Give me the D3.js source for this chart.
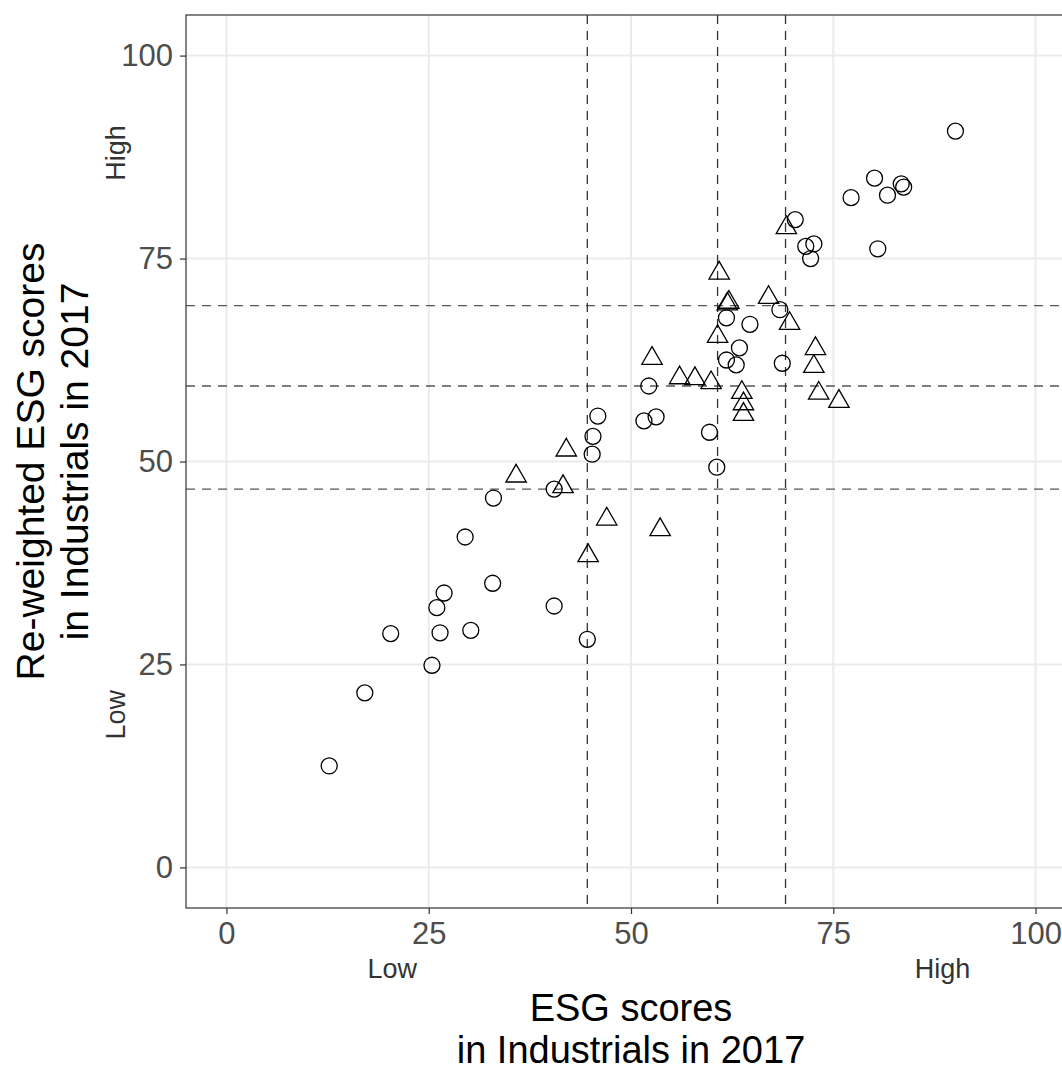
<!DOCTYPE html>
<html>
<head>
<meta charset="utf-8">
<script src="https://cdn.jsdelivr.net/npm/d3@7"></script>
<style>
  body { margin: 0; background: #fff; }
  .chart { width: 1062px; height: 1071px; overflow: hidden; }
  text { font-family: "Liberation Sans", Arial, sans-serif; }
</style>
</head>
<body>
<div class="chart"></div>
<script>
// circles: firms, triangles: the other group
const circleX = [12.7, 17.1, 20.3, 25.4, 26.0, 26.9, 26.4, 29.5, 30.2, 32.9, 33.0, 40.5, 44.6, 40.5, 45.2, 45.3, 45.9, 51.6, 53.1, 52.2,
	59.7, 60.6, 61.8, 64.7, 63.4, 61.8, 63.0, 68.4, 68.7, 70.3, 71.6, 72.6, 72.2, 77.2, 80.1, 81.7, 83.4, 83.7, 80.5, 90.1];
const circleY = [12.5, 21.5, 28.8, 24.9, 32.0, 33.8, 28.9, 40.7, 29.2, 35.0, 45.5, 32.2, 28.1, 46.6, 50.9, 53.1, 55.6, 55.0, 55.5, 59.3,
	53.6, 49.3, 67.7, 66.9, 64.0, 62.5, 61.9, 68.7, 62.1, 79.8, 76.5, 76.8, 75.0, 82.5, 84.9, 82.8, 84.2, 83.8, 76.2, 90.7];

const triangleX = [35.8, 41.6, 42.0, 47.0, 53.6, 44.7, 52.6, 56.0, 57.9, 59.9, 60.7, 60.9, 61.9, 62.1, 67.0, 69.6, 69.2, 72.8, 72.6, 73.2,
	75.7, 63.7, 63.9, 63.9];
const triangleY = [48.2, 46.9, 51.4, 42.9, 41.6, 38.4, 62.7, 60.3, 60.2, 59.7, 65.4, 73.2, 69.4, 69.6, 70.2, 67.0, 78.8, 63.9, 61.7, 58.4,
	57.4, 58.5, 57.1, 55.8];

// cut-off values (dashed lines)
const cutX = [44.6, 60.7, 69.1];
const cutY = [46.6, 59.3, 69.2];

const xTicks = [0, 25, 50, 75, 100];
const yTicks = [0, 25, 50, 75, 100];

const xLevels = ['Low', 'High'];
const xLevelPos = [20.5, 88.5];
const yLevels = ['Low', 'High'];
const yLevelPos = [18.8, 88];

const xTitle = ['ESG scores', 'in Industrials in 2017'];
const yTitle = ['Re-weighted ESG scores', 'in Industrials in 2017'];

const width = 1062;
const height = 1071;

const padLeft = 186, padTop = 15;
const panelW = 890, panelH = 893;

let svg = d3.select('.chart')
	.append('svg')
	.attr('width', width)
	.attr('height', height);

const x = d3.scaleLinear().domain([-5, 105]).range([padLeft, padLeft + panelW]);
const y = d3.scaleLinear().domain([-5, 105]).range([padTop + panelH, padTop]);

// grid
svg.selectAll('.gx').data(xTicks).enter()
	.append('line')
	.attr('x1', d => x(d)).attr('x2', d => x(d))
	.attr('y1', padTop).attr('y2', padTop + panelH)
	.style('stroke', '#ebebeb').style('stroke-width', 2);

svg.selectAll('.gy').data(yTicks).enter()
	.append('line')
	.attr('x1', padLeft).attr('x2', padLeft + panelW)
	.attr('y1', d => y(d)).attr('y2', d => y(d))
	.style('stroke', '#ebebeb').style('stroke-width', 2);

// dashed cut lines
svg.selectAll('.cy').data(cutY).enter()
	.append('line')
	.attr('x1', padLeft).attr('x2', padLeft + panelW)
	.attr('y1', d => y(d)).attr('y2', d => y(d))
	.style('stroke', '#555').style('stroke-width', 1.3)
	.style('stroke-dasharray', '9,7');

svg.selectAll('.cx').data(cutX).enter()
	.append('line')
	.attr('x1', d => x(d)).attr('x2', d => x(d))
	.attr('y1', padTop).attr('y2', padTop + panelH)
	.style('stroke', '#333').style('stroke-width', 1.3)
	.style('stroke-dasharray', '9,7');

// points
svg.selectAll('.circ').data(circleX).enter()
	.append('circle')
	.attr('cx', d => x(d))
	.attr('cy', (d, i) => y(circleY[i]))
	.attr('r', 8)
	.style('fill', 'none')
	.style('stroke', '#000')
	.style('stroke-width', 1.3);

const tri = d3.symbol().type(d3.symbolTriangle).size(180);
svg.selectAll('.tri').data(triangleX).enter()
	.append('path')
	.attr('d', tri)
	.attr('transform', (d, i) => 'translate(' + x(d) + ',' + y(triangleY[i]) + ')')
	.style('fill', 'none')
	.style('stroke', '#000')
	.style('stroke-width', 1.3);

// panel border
svg.append('rect')
	.attr('x', padLeft).attr('y', padTop)
	.attr('width', panelW).attr('height', panelH)
	.style('fill', 'none')
	.style('stroke', '#333')
	.style('stroke-width', 1.2);

// axes
let gx = svg.append('g')
	.attr('transform', 'translate(0,' + (padTop + panelH) + ')')
	.call(d3.axisBottom(x).tickValues(xTicks).tickSize(6).tickPadding(8));
let gy = svg.append('g')
	.attr('transform', 'translate(' + padLeft + ',0)')
	.call(d3.axisLeft(y).tickValues(yTicks).tickSize(6).tickPadding(7));

[gx, gy].forEach(g => {
	g.select('.domain').remove();
	g.selectAll('line').attr('stroke', '#333').attr('stroke-width', 1.2);
	g.selectAll('text')
		.attr('font-family', '"Liberation Sans", Arial, sans-serif')
		.attr('font-size', 31)
		.attr('fill', '#4d4d4d');
});

// Low / High labels
svg.selectAll('.lx').data(xLevels).enter()
	.append('text')
	.attr('x', (d, i) => x(xLevelPos[i]))
	.attr('y', 978)
	.attr('text-anchor', 'middle')
	.style('font-size', '27px')
	.style('fill', '#333')
	.text(d => d);

svg.selectAll('.ly').data(yLevels).enter()
	.append('text')
	.attr('transform', (d, i) => 'translate(125,' + y(yLevelPos[i]) + ') rotate(-90)')
	.attr('text-anchor', 'middle')
	.style('font-size', '27px')
	.style('fill', '#333')
	.text(d => d);

// titles
svg.selectAll('.tx').data(xTitle).enter()
	.append('text')
	.attr('x', padLeft + panelW / 2)
	.attr('y', (d, i) => 1021 + i * 42)
	.attr('text-anchor', 'middle')
	.style('font-size', '38px')
	.style('fill', '#000')
	.text(d => d);

svg.selectAll('.ty').data(yTitle).enter()
	.append('text')
	.attr('transform', (d, i) => 'translate(' + (44 + i * 44) + ',' + (padTop + panelH / 2) + ') rotate(-90)')
	.attr('text-anchor', 'middle')
	.style('font-size', '39px')
	.style('fill', '#000')
	.text(d => d);
</script>
</body>
</html>
